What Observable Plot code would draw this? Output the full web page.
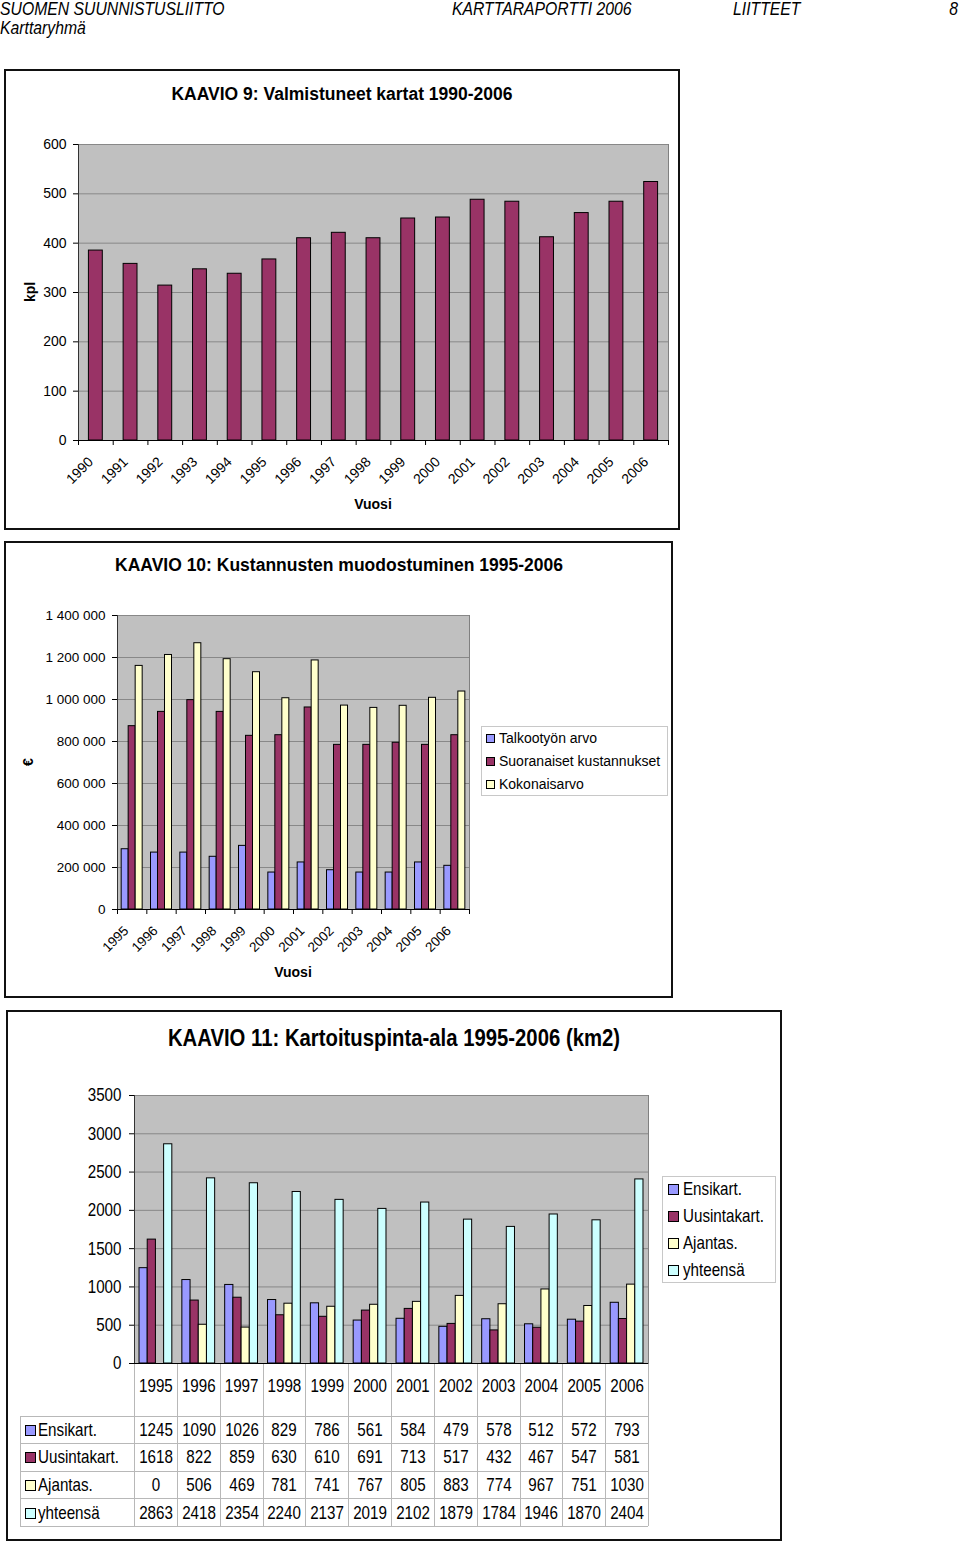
<!DOCTYPE html>
<html><head><meta charset="utf-8">
<script src="https://cdn.jsdelivr.net/npm/d3@7"></script>
<script src="https://cdn.jsdelivr.net/npm/@observablehq/plot@0.6"></script>
<style>
html,body{margin:0;padding:0;background:#fff;}
#page{position:relative;width:960px;height:1541px;overflow:hidden;background:#fff;}
#page svg{position:absolute;overflow:visible;max-width:none;}
</style></head>
<body><div id="page"></div>
<script>
// ---------- DATA ----------
const years1 = [1990,1991,1992,1993,1994,1995,1996,1997,1998,1999,2000,2001,2002,2003,2004,2005,2006];
const mapsMade = [385,358,314,347,338,367,410,421,410,450,452,488,484,412,461,484,524];
const yTicks1 = [0,100,200,300,400,500,600];

const years2 = [1995,1996,1997,1998,1999,2000,2001,2002,2003,2004,2005,2006];
const series2 = ["Talkootyön arvo","Suoranaiset kustannukset","Kokonaisarvo"];
const talkoo = [287000,271000,271000,251000,303000,176000,224000,187000,176000,176000,224000,208000];
const suora  = [873000,941000,997000,941000,827000,830000,962000,784000,784000,794000,784000,830000];
const koko   = [1160000,1212000,1268000,1192000,1130000,1006000,1186000,971000,960000,970000,1008000,1038000];
const yTicks2 = [0,200000,400000,600000,800000,1000000,1200000,1400000];

const years3 = [1995,1996,1997,1998,1999,2000,2001,2002,2003,2004,2005,2006];
const series3 = ["Ensikart.","Uusintakart.","Ajantas.","yhteensä"];
const ensi     = [1245,1090,1026,829,786,561,584,479,578,512,572,793];
const uusinta  = [1618,822,859,630,610,691,713,517,432,467,547,581];
const ajantas  = [0,506,469,781,741,767,805,883,774,967,751,1030];
const yhteensa = [2863,2418,2354,2240,2137,2019,2102,1879,1784,1946,1870,2404];
const yTicks3 = [0,500,1000,1500,2000,2500,3000,3500];

const colors = ["#9999ff","#993366","#ffffcc","#ccffff"];

// ---------- HELPERS ----------
const FONT = '"Liberation Sans", Arial, sans-serif';
const NARROW_X = 0.82; // horizontal squeeze to mimic the narrow face of chart 11
const page = document.getElementById("page");
function txt(s, x, y, o = {}) {
  const d = document.createElement("div");
  d.textContent = s;
  d.style.cssText = `position:absolute;left:${x}px;top:${y}px;white-space:nowrap;line-height:1;` +
    `font-family:${FONT};font-size:${o.size || 14}px;font-weight:${o.weight || "normal"};` +
    `font-style:${o.style || "normal"};color:#000;`;
  const tx = o.anchor === "middle" ? "-50%" : o.anchor === "end" ? "-100%" : "0";
  const ox = o.anchor === "middle" ? "50%" : o.anchor === "end" ? "100%" : "0";
  d.style.transformOrigin = `${ox} 50%`;
  d.style.transform = `translate(${tx},-50%)` + (o.rotate ? ` rotate(${o.rotate}deg)` : "") + (o.sx ? ` scaleX(${o.sx})` : "");
  if (o.rotate) d.style.transformOrigin = "50% 50%";
  page.appendChild(d);
  return d;
}
function rect(x, y, w, h, css) {
  const d = document.createElement("div");
  d.style.cssText = `position:absolute;left:${x}px;top:${y}px;width:${w}px;height:${h}px;box-sizing:border-box;${css}`;
  page.appendChild(d);
  return d;
}
function place(svg, x, y) { svg.style.left = x + "px"; svg.style.top = y + "px"; page.appendChild(svg); }
function squeezeTexts(svg, k) {
  d3.select(svg).selectAll("text").each(function () {
    const x = +this.getAttribute("x") || 0, y = +this.getAttribute("y") || 0;
    const t = this.getAttribute("transform") || "";
    this.setAttribute("transform", `${t} translate(${x},${y}) scale(${k},1) translate(${-x},${-y})`);
  });
}
const fmtSpace = d => d3.format(",")(d).replace(/,/g, " ");
const plain = d => String(d);

// ---------- HEADER ----------
const HD = {size: 18, style: "italic", sx: 0.875};
txt("SUOMEN SUUNNISTUSLIITTO", 0, 9, HD);
txt("KARTTARAPORTTI 2006", 452, 9, HD);
txt("LIITTEET", 733, 9, HD);
txt("8", 958, 9, {...HD, anchor: "end"});
txt("Karttaryhmä", 0, 28, HD);

// ---------- CHART 1 ----------
rect(4, 69, 676, 461, "border:2px solid #111;");
txt("KAAVIO 9: Valmistuneet kartat 1990-2006", 342, 95, {size: 17.5, weight: "bold", anchor: "middle"});
{
  const W = 680, Hh = 400, mL = 78, mR = 12, mT = 14, mB = 90;
  const step = (W - mL - mR) / years1.length;
  const data = years1.map((y, i) => ({year: y, value: mapsMade[i]}));
  const c1 = Plot.plot({
    width: W, height: Hh, marginLeft: mL, marginRight: mR, marginTop: mT, marginBottom: mB,
    style: {background: "transparent", fontFamily: FONT, fontSize: "14px", color: "#000", overflow: "visible"},
    x: {type: "band", domain: years1, paddingInner: 0.6, paddingOuter: 0.3, round: false, label: null},
    y: {domain: [0, 600], label: null},
    marks: [
      Plot.frame({fill: "#c0c0c0", stroke: "#808080"}),
      Plot.ruleY(yTicks1.slice(1), {stroke: "#888"}),
      Plot.barY(data, {x: "year", y: "value", fill: colors[1], stroke: "#000", strokeWidth: 1}),
      Plot.axisY({ticks: yTicks1, tickFormat: plain, tickSize: 5, tickPadding: 7, label: null}),
      Plot.axisX({tickFormat: plain, tickSize: 0, tickPadding: 19, tickRotate: -45, dx: -5, label: null}),
      Plot.ruleY([0], {stroke: "#000"}),
      Plot.ruleX([years1[0]], {x: d => d, dx: -step / 2, stroke: "#333"}),
      Plot.ruleX(years1, {x: d => d, dx: -step / 2, y1: () => 0, y2: () => 0, insetBottom: -5, stroke: "#000"}),
      Plot.ruleX(years1.slice(-1), {x: d => d, dx: step / 2, y1: () => 0, y2: () => 0, insetBottom: -5, stroke: "#000"})
    ]
  });
  place(c1, 0, 130);
}
txt("kpl", 30, 292, {size: 14, weight: "bold", anchor: "middle", rotate: -90});
txt("Vuosi", 373, 504, {size: 14, weight: "bold", anchor: "middle"});

// ---------- CHART 2 ----------
rect(4, 541, 669, 457, "border:2px solid #111;");
txt("KAAVIO 10: Kustannusten muodostuminen 1995-2006", 339, 566, {size: 17.5, weight: "bold", anchor: "middle"});
{
  const W = 480, Hh = 400, mL = 117, mR = 11, mT = 15, mB = 91;
  const step = (W - mL - mR) / years2.length;
  const bw = 7, group = bw * 3;
  const vals = [talkoo, suora, koko];
  const bars = vals.map((arr, s) => {
    const inL = (step - group) / 2 + s * bw;
    return Plot.barY(years2.map((y, i) => ({year: y, value: arr[i]})),
      {x: "year", y: "value", fill: colors[s], stroke: "#000", strokeWidth: 1, insetLeft: inL, insetRight: step - inL - bw});
  });
  const c2 = Plot.plot({
    width: W, height: Hh, marginLeft: mL, marginRight: mR, marginTop: mT, marginBottom: mB,
    style: {background: "transparent", fontFamily: FONT, fontSize: "13.5px", color: "#000", overflow: "visible"},
    x: {type: "band", domain: years2, paddingInner: 0, paddingOuter: 0, round: false, label: null},
    y: {domain: [0, 1400000], label: null},
    marks: [
      Plot.frame({fill: "#c0c0c0", stroke: "#808080"}),
      Plot.ruleY(yTicks2.slice(1), {stroke: "#888"}),
      ...bars,
      Plot.axisY({ticks: yTicks2, tickFormat: fmtSpace, tickSize: 5, tickPadding: 7, label: null}),
      Plot.axisX({tickFormat: plain, tickSize: 0, tickPadding: 19, tickRotate: -45, dx: -6, label: null}),
      Plot.ruleY([0], {stroke: "#000"}),
      Plot.ruleX([years2[0]], {x: d => d, dx: -step / 2, stroke: "#333"}),
      Plot.ruleX(years2, {x: d => d, dx: -step / 2, y1: () => 0, y2: () => 0, insetBottom: -5, stroke: "#000"}),
      Plot.ruleX(years2.slice(-1), {x: d => d, dx: step / 2, y1: () => 0, y2: () => 0, insetBottom: -5, stroke: "#000"})
    ]
  });
  place(c2, 0, 600);
}
txt("€", 28, 762, {size: 14, weight: "bold", anchor: "middle", rotate: -90});
txt("Vuosi", 293, 972, {size: 14, weight: "bold", anchor: "middle"});
rect(481, 726, 187, 70, "border:1px solid #c8c8c8;");
series2.forEach((s, i) => {
  const cy = 738 + i * 23;
  rect(486, cy - 4, 9, 9, `background:${colors[i]};border:1px solid #000;`);
  txt(s, 499, cy, {size: 14});
});

// ---------- CHART 3 ----------
rect(6, 1010, 776, 531, "border:2px solid #111;");
txt("KAAVIO 11: Kartoituspinta-ala 1995-2006 (km2)", 394, 1038, {size: 24, weight: "bold", anchor: "middle", sx: 0.846});
{
  const W = 660, Hh = 320, mL = 134, mR = 12, mT = 15, mB = 37;
  const step = (W - mL - mR) / years3.length;
  const bw = 8.2, group = bw * 4;
  const vals = [ensi, uusinta, ajantas, yhteensa];
  const bars = vals.map((arr, s) => {
    const inL = (step - group) / 2 + s * bw;
    return Plot.barY(years3.map((y, i) => ({year: y, value: arr[i]})),
      {x: "year", y: "value", fill: colors[s], stroke: "#000", strokeWidth: 1, insetLeft: inL, insetRight: step - inL - bw});
  });
  const c3 = Plot.plot({
    width: W, height: Hh, marginLeft: mL, marginRight: mR, marginTop: mT, marginBottom: mB,
    style: {background: "transparent", fontFamily: FONT, fontSize: "18.5px", color: "#000", overflow: "visible"},
    x: {type: "band", domain: years3, paddingInner: 0, paddingOuter: 0, round: false, label: null},
    y: {domain: [0, 3500], label: null},
    marks: [
      Plot.frame({fill: "#c0c0c0", stroke: "#808080"}),
      Plot.ruleY(yTicks3.slice(1), {stroke: "#888"}),
      ...bars,
      Plot.axisY({ticks: yTicks3, tickFormat: plain, tickSize: 5, tickPadding: 8, label: null}),
      Plot.axisX({tickFormat: plain, tickSize: 0, tickPadding: 15, label: null}),
      Plot.ruleX([years3[0]], {x: d => d, dx: -step / 2, stroke: "#333"}),
      Plot.ruleY([0], {stroke: "#000"})
    ]
  });
  squeezeTexts(c3, NARROW_X);
  place(c3, 0, 1080);

  // data table under the chart, columns from the chart's x scale
  const sx = c3.scale("x");
  const first = sx.apply(years3[0]);
  const startOff = (first - sx.range[0] > step / 4) ? sx.bandwidth / 2 : 0;
  const colL = y => sx.apply(y) - startOff; // svg placed at x=0
  const top0 = 1080 + (Hh - mB) + 1;
  const tTop = 1415.5, rowH = 27.6, tBot = tTop + rowH * 4;
  const lineC = "#b8b8b8";
  years3.forEach(y => rect(colL(y), top0, 1, tBot - top0, `background:${lineC};`));
  rect(colL(years3[years3.length - 1]) + step, top0, 1, tBot - top0, `background:${lineC};`);
  rect(20, tTop, 1, tBot - tTop, `background:${lineC};`);
  for (let r = 0; r <= 4; r++) rect(20, tTop + r * rowH, colL(years3[years3.length - 1]) + step - 20, 1, `background:${lineC};`);
  vals.forEach((arr, r) => {
    const cy = tTop + r * rowH + rowH / 2 + 0.5;
    rect(25, cy - 5, 11, 11, `background:${colors[r]};border:1px solid #000;`);
    txt(series3[r], 38, cy, {size: 18.5, sx: NARROW_X});
    years3.forEach((y, i) => txt(String(arr[i]), colL(y) + step / 2 + 0.5, cy, {size: 18.5, anchor: "middle", sx: NARROW_X}));
  });
}
rect(662, 1176, 114, 107, "border:1px solid #c8c8c8;");
series3.forEach((s, i) => {
  const cy = 1189 + i * 27;
  rect(668, cy - 5, 11, 11, `background:${colors[i]};border:1px solid #000;`);
  txt(s, 683, cy, {size: 18.5, sx: NARROW_X});
});
</script>
</body></html>
